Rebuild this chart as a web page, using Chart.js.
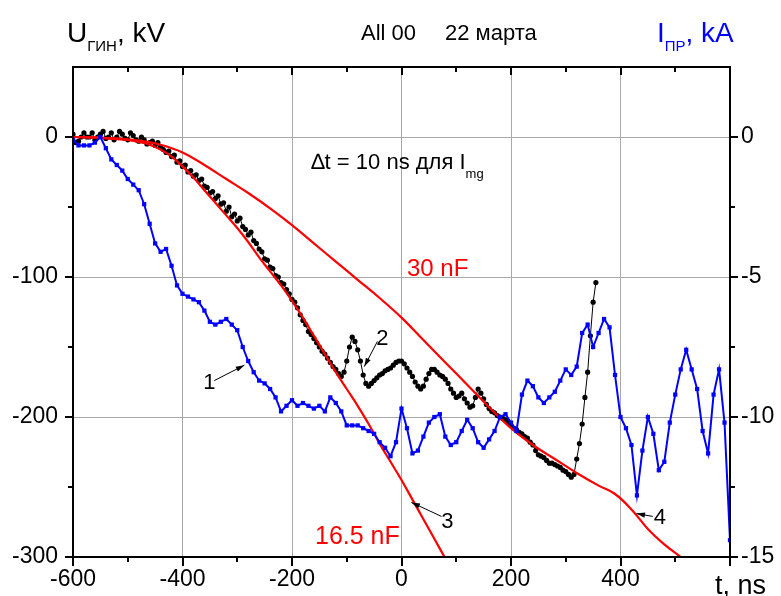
<!DOCTYPE html>
<html>
<head>
<meta charset="utf-8">
<script src="https://cdn.jsdelivr.net/npm/chart.js@4.4.0/dist/chart.umd.min.js"></script>
<style>
  html, body { margin: 0; padding: 0; background: #fff; }
  #wrap { width: 781px; height: 596px; position: relative; }
</style>
</head>
<body>
<div id="wrap"><canvas id="chart"></canvas></div>
<script>
const FONT = '"Liberation Sans", Arial, sans-serif';

// axis ticks (600 gets a tick but no label: "t, ns" sits there)
const tTicks = [-600, -400, -200, 0, 200, 400, 600];
const tLabels = ['-600', '-400', '-200', '0', '200', '400', ''];
const tMinor = [-500, -300, -100, 100, 300, 500];
const uTicks = [-300, -200, -100, 0];
const uMinor = [-250, -150, -50];
const iTicks = [-15, -10, -5, 0];
const iMinor = [-12.5, -7.5, -2.5];

// curve 1: I_ПР, kA (blue, right axis)
const blueTime = [
  -600, -590, -580, -570, -560, -550, -540, -530, -520, -510,
  -500, -490, -480, -470, -460, -450, -440, -430, -420, -410,
  -400, -390, -380, -370, -360, -350, -340, -330, -320, -310,
  -300, -290, -280, -270, -260, -250, -240, -230, -220, -210,
  -200, -190, -180, -170, -160, -150, -140, -130, -120, -110,
  -100, -90, -80, -70, -60, -50, -40, -30, -20, -10,
  0, 10, 20, 30, 40, 50, 60, 70, 80, 90,
  100, 110, 120, 130, 140, 150, 160, 170, 180, 190,
  200, 210, 220, 230, 240, 250, 260, 270, 280, 290,
  300, 310, 320, 330, 340, 350, 360, 370, 380, 390,
  400, 410, 420, 430, 440, 450, 460, 470, 480, 490,
  500, 510, 520, 530, 540, 550, 560, 570, 580, 590, 600
];
const blueCurrent = [
  -0.1, -0.3, -0.3, -0.3, -0.2, 0.0, -0.4, -0.8, -1.0, -1.2,
  -1.5, -1.7, -1.9, -2.4, -3.1, -3.8, -4.1, -4.0, -4.6, -5.3,
  -5.6, -5.7, -5.8, -5.9, -6.2, -6.6, -6.7, -6.6, -6.5, -6.7,
  -6.9, -7.5, -8.0, -8.4, -8.7, -8.8, -9.0, -9.3, -9.8, -9.6,
  -9.4, -9.6, -9.5, -9.6, -9.7, -9.6, -9.8, -9.3, -9.5, -9.8,
  -10.3, -10.3, -10.3, -10.4, -10.5, -10.6, -10.9, -11.1, -11.4, -10.9,
  -9.7, -10.4, -11.3, -11.2, -10.7, -10.2, -10.0, -9.9, -10.7, -11.0,
  -10.9, -10.5, -10.1, -10.4, -10.9, -11.1, -10.8, -10.5, -10.0, -9.9,
  -10.2, -10.5, -9.2, -8.7, -8.9, -9.3, -9.5, -9.3, -9.1, -8.7,
  -8.3, -8.5, -8.2, -7.0, -6.7, -7.5, -7.0, -6.5, -6.8, -8.5,
  -10.0, -10.4, -11.0, -12.8, -11.2, -10.0, -10.6, -11.9, -11.6, -10.2,
  -9.2, -8.3, -7.6, -8.3, -9.0, -10.5, -11.3, -9.2, -8.3, -10.2, -14.4
];

// curve 2: U_ГИН, kV (black, left axis)
const blackTime = [
  -600, -595, -590, -585, -580, -575, -570, -565, -560, -555,
  -550, -545, -540, -535, -530, -525, -520, -515, -510, -505,
  -500, -495, -490, -485, -480, -475, -470, -465, -460, -455,
  -450, -445, -440, -435, -430, -425, -420, -415, -410, -405,
  -400, -395, -390, -385, -380, -375, -370, -365, -360, -355,
  -350, -345, -340, -335, -330, -325, -320, -315, -310, -305,
  -300, -295, -290, -285, -280, -275, -270, -265, -260, -255,
  -250, -245, -240, -235, -230, -225, -220, -215, -210, -205,
  -200, -195, -190, -185, -180, -175, -170, -165, -160, -155,
  -150, -145, -140, -135, -130, -125, -120, -115, -110, -105,
  -100, -95, -90, -85, -80, -75, -70, -65, -60, -55,
  -50, -45, -40, -35, -30, -25, -20, -15, -10, -5,
  0, 5, 10, 15, 20, 25, 30, 35, 40, 45,
  50, 55, 60, 65, 70, 75, 80, 85, 90, 95,
  100, 105, 110, 115, 120, 125, 130, 135, 140, 145,
  150, 155, 160, 165, 170, 175, 180, 185, 190, 195,
  200, 205, 210, 215, 220, 225, 230, 235, 240, 245,
  250, 255, 260, 265, 270, 275, 280, 285, 290, 295,
  300, 305, 310, 315, 320, 325, 330, 335, 340, 345,
  350, 355
];
const blackVoltage = [
  2, -4, -3, 0, 3, 0, 0, 3, -2, 0,
  2, 4, -1, 0, 3, -2, 0, 4, 2, -1,
  -2, 3, 1, -2, -3, 0, -2, -5, -4, -3,
  -6, -4, -7, -9, -11, -10, -14, -13, -18, -17,
  -21, -20, -25, -24, -28, -27, -31, -30, -35, -36,
  -40, -39, -44, -42, -48, -47, -53, -50, -57, -55,
  -60, -58, -64, -66, -70, -68, -74, -76, -80, -82,
  -87, -88, -93, -94, -99, -100, -104, -105, -109, -112,
  -116, -118, -122, -127, -131, -134, -139, -141, -144, -147,
  -150, -153, -155, -158, -161, -164, -166, -169, -171, -168,
  -160, -150, -143, -146, -152, -160, -170, -176, -178, -176,
  -174, -172, -170, -169, -167, -166, -165, -163, -161, -160,
  -160, -162, -165, -168, -171, -175, -178, -180, -178, -173,
  -169, -166, -166, -168, -170, -171, -173, -176, -180, -183,
  -186, -185, -183, -187, -190, -193, -192, -186, -180, -183,
  -187, -191, -194, -196, -197, -199, -200, -201, -202, -204,
  -206, -208, -209, -211, -212, -214, -215, -218, -220, -224,
  -227, -228, -229, -231, -233, -233, -234, -235, -236, -238,
  -239, -241, -243, -241, -230, -219, -205, -186, -168, -142,
  -118, -104
];

// curve 3: 16.5 nF (red)
const c165Time = [
  -600, -560, -520, -500, -480, -460, -440, -420, -400, -380,
  -360, -340, -320, -300, -280, -260, -240, -220, -200, -180,
  -160, -140, -120, -100, -80, -60, -40, -20, 0, 20, 40, 60, 80
];
const c165Voltage = [
  0, -0.5, -1.5, -2, -3.5, -5.5, -9, -14, -21, -29,
  -38, -47, -56, -65, -75, -86, -96, -106, -117, -129,
  -142, -155, -168, -180, -192, -205, -219, -232, -245, -259, -273, -287, -301
];

// curve 4: 30 nF (red)
const c30Time = [
  -600, -560, -520, -480, -440, -400, -360, -320, -280, -240,
  -200, -160, -120, -80, -40, 0, 40, 80, 120, 160,
  200, 240, 280, 320, 360, 390, 420, 450, 480, 510
];
const c30Voltage = [
  0, -0.3, -1, -2.5, -5.5, -11, -20, -30, -40, -51,
  -63, -76, -89, -102, -115, -129, -145, -161, -177, -193,
  -208, -220, -230, -240, -249, -255, -266, -280, -291, -300
];

// labels placed in data units (t, kV)
const notes = [
  { text: '1', t: -351, u: -176, from: [-342, -174], to: [-287, -163] },
  { text: '2', t: -35, u: -144, from: [-44, -146], to: [-68, -164] },
  { text: '3', t: 84, u: -275, from: [73, -271], to: [18, -261] },
  { text: '4', t: 472, u: -272, from: [459, -271], to: [429, -269] }
];

function pts(xs, ys) {
  return xs.map((x, i) => ({ x: x, y: ys[i] }));
}

function arrow(ctx, x1, y1, x2, y2) {
  const a = Math.atan2(y2 - y1, x2 - x1);
  ctx.beginPath();
  ctx.moveTo(x1, y1);
  ctx.lineTo(x2, y2);
  ctx.stroke();
  ctx.beginPath();
  ctx.moveTo(x2, y2);
  ctx.lineTo(x2 - 9 * Math.cos(a - 0.3), y2 - 9 * Math.sin(a - 0.3));
  ctx.lineTo(x2 - 9 * Math.cos(a + 0.3), y2 - 9 * Math.sin(a + 0.3));
  ctx.closePath();
  ctx.fill();
}

// text with subscript parts
function subText(ctx, x, y, parts) {
  parts.forEach(p => {
    ctx.font = p.size + 'px ' + FONT;
    ctx.fillText(p.s, x, y + (p.dy || 0));
    x += ctx.measureText(p.s).width;
  });
  return x;
}

const framePlugin = {
  id: 'frame',
  afterDraw(chart) {
    const ctx = chart.ctx;
    const a = chart.chartArea;
    const xs = chart.scales.x, yl = chart.scales.y, yr = chart.scales.yR;
    ctx.save();
    ctx.strokeStyle = '#000';
    ctx.lineWidth = 2;
    ctx.strokeRect(a.left, a.top, a.right - a.left, a.bottom - a.top);

    const tick = (x1, y1, x2, y2) => {
      ctx.beginPath(); ctx.moveTo(x1, y1); ctx.lineTo(x2, y2); ctx.stroke();
    };
    tTicks.forEach(v => {
      const p = Math.round(xs.getPixelForValue(v));
      tick(p, a.bottom, p, a.bottom + 9);
      tick(p, a.top, p, a.top + 8);
    });
    tMinor.forEach(v => {
      const p = Math.round(xs.getPixelForValue(v));
      tick(p, a.bottom, p, a.bottom + 5);
      tick(p, a.top, p, a.top + 5);
    });
    uTicks.forEach(v => {
      const p = Math.round(yl.getPixelForValue(v));
      tick(a.left - 8, p, a.left, p);
    });
    uMinor.forEach(v => {
      const p = Math.round(yl.getPixelForValue(v));
      tick(a.left - 5, p, a.left, p);
    });
    iTicks.forEach(v => {
      const p = Math.round(yr.getPixelForValue(v));
      tick(a.right, p, a.right + 8, p);
    });
    iMinor.forEach(v => {
      const p = Math.round(yr.getPixelForValue(v));
      tick(a.right, p, a.right + 5, p);
    });

    // arrows and curve numbers
    ctx.fillStyle = '#000';
    ctx.lineWidth = 1;
    ctx.textAlign = 'center';
    ctx.textBaseline = 'middle';
    ctx.font = '22px ' + FONT;
    notes.forEach(n => {
      ctx.fillText(n.text, xs.getPixelForValue(n.t), yl.getPixelForValue(n.u));
      arrow(ctx, xs.getPixelForValue(n.from[0]), yl.getPixelForValue(n.from[1]),
        xs.getPixelForValue(n.to[0]), yl.getPixelForValue(n.to[1]));
    });

    ctx.textAlign = 'left';
    ctx.textBaseline = 'alphabetic';
    ctx.fillStyle = '#ff0000';
    ctx.font = '24px ' + FONT;
    ctx.fillText('30 nF', xs.getPixelForValue(10), yl.getPixelForValue(-99));
    ctx.font = '25px ' + FONT;
    ctx.fillText('16.5 nF', xs.getPixelForValue(-158), yl.getPixelForValue(-291));

    ctx.fillStyle = '#000';
    subText(ctx, xs.getPixelForValue(-165), yl.getPixelForValue(-23), [
      { s: '\u2206t = 10 ns для I', size: 22 },
      { s: 'mg', size: 13, dy: 9 }
    ]);

    subText(ctx, 67, 42, [
      { s: 'U', size: 28 },
      { s: 'ГИН', size: 15, dy: 9 },
      { s: ', kV', size: 28 }
    ]);
    ctx.font = '22px ' + FONT;
    ctx.fillText('All 00', 361, 40);
    ctx.fillText('22 марта', 445, 40);

    ctx.fillStyle = '#0000ff';
    subText(ctx, 657, 42, [
      { s: 'I', size: 28 },
      { s: 'ПР', size: 15, dy: 9 },
      { s: ', kA', size: 28 }
    ]);

    ctx.fillStyle = '#000';
    ctx.font = '27px ' + FONT;
    ctx.fillText('t, ns', 715, 594);
    ctx.restore();
  }
};

const gridColor = '#a8a8a8';

new Chart(document.getElementById('chart'), {
  type: 'scatter',
  data: {
    datasets: [
      {
        label: '1',
        data: pts(blueTime, blueCurrent),
        yAxisID: 'yR',
        showLine: true,
        borderColor: '#0000ff',
        backgroundColor: '#0000ff',
        borderWidth: 2,
        pointStyle: 'rect',
        pointRadius: 3,
        pointBorderWidth: 0,
        order: 1
      },
      {
        label: '3',
        data: pts(c165Time, c165Voltage),
        yAxisID: 'y',
        showLine: true,
        borderColor: '#ff0000',
        borderWidth: 2.2,
        pointRadius: 0,
        tension: 0.4,
        order: 2
      },
      {
        label: '4',
        data: pts(c30Time, c30Voltage),
        yAxisID: 'y',
        showLine: true,
        borderColor: '#ff0000',
        borderWidth: 2.2,
        pointRadius: 0,
        tension: 0.4,
        order: 3
      },
      {
        label: '2',
        data: pts(blackTime, blackVoltage),
        yAxisID: 'y',
        showLine: true,
        borderColor: '#000',
        backgroundColor: '#000',
        borderWidth: 1,
        pointStyle: 'circle',
        pointRadius: 2.6,
        pointBorderWidth: 0,
        order: 4
      }
    ]
  },
  options: {
    responsive: true,
    maintainAspectRatio: false,
    animation: false,
    layout: { padding: { top: 67, left: 0, right: 0, bottom: 0 } },
    plugins: {
      legend: { display: false },
      tooltip: { enabled: false }
    },
    scales: {
      x: {
        type: 'linear',
        min: -600,
        max: 600,
        afterBuildTicks: s => { s.ticks = tTicks.map(v => ({ value: v })); },
        afterFit: s => { s.height = 39; },
        border: { display: false },
        grid: {
          color: c => (c.tick && (c.tick.value === -600 || c.tick.value === 600)) ? 'transparent' : gridColor,
          lineWidth: 1,
          tickLength: 9,
          tickColor: 'transparent'
        },
        ticks: {
          color: '#000',
          font: { family: FONT, size: 23 },
          padding: 0,
          maxRotation: 0,
          autoSkip: false,
          callback: (v, i) => tLabels[i]
        }
      },
      y: {
        type: 'linear',
        position: 'left',
        min: -300,
        max: 50,
        afterBuildTicks: s => { s.ticks = uTicks.map(v => ({ value: v })); },
        afterFit: s => { s.width = 73; },
        border: { display: false },
        grid: {
          color: c => (c.tick && c.tick.value === -300) ? 'transparent' : gridColor,
          lineWidth: 1,
          tickLength: 8,
          tickColor: 'transparent'
        },
        ticks: {
          color: '#000',
          font: { family: FONT, size: 23 },
          padding: 7
        }
      },
      yR: {
        type: 'linear',
        position: 'right',
        min: -15,
        max: 2.5,
        afterBuildTicks: s => { s.ticks = iTicks.map(v => ({ value: v })); },
        afterFit: s => { s.width = 51; },
        border: { display: false },
        grid: {
          drawOnChartArea: false,
          tickLength: 8,
          tickColor: 'transparent'
        },
        ticks: {
          color: '#000',
          font: { family: FONT, size: 23 },
          padding: 3
        }
      }
    }
  },
  plugins: [framePlugin]
});
</script>
</body>
</html>
